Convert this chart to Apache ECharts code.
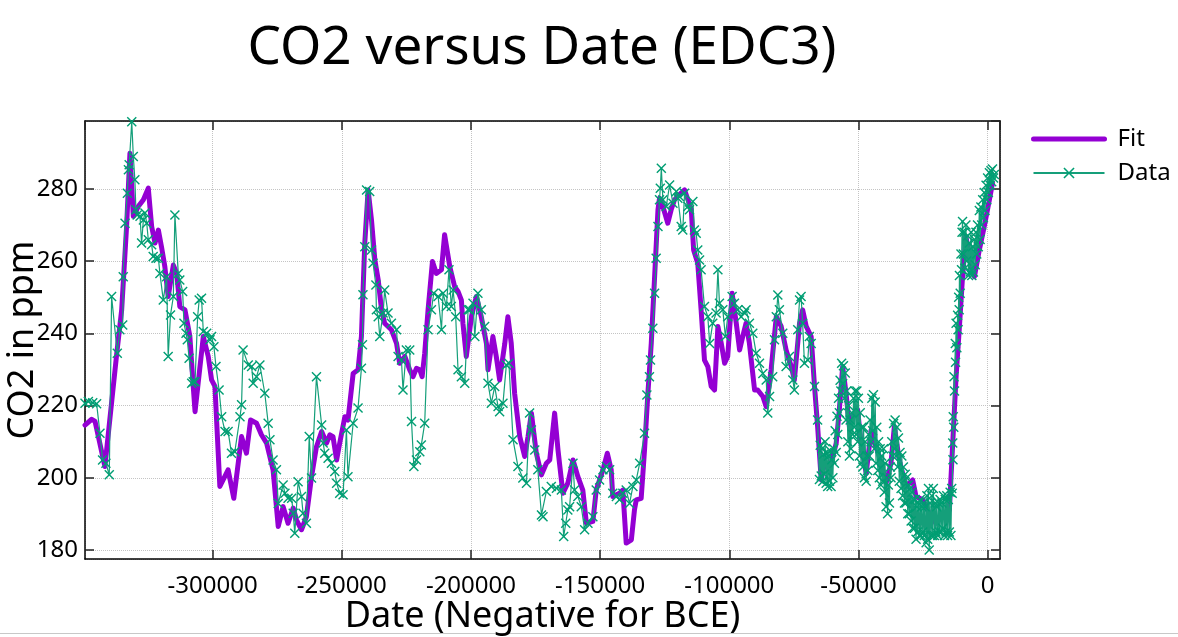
<!DOCTYPE html>
<html>
<head>
<meta charset="utf-8">
<script src="https://cdn.jsdelivr.net/npm/echarts@6/dist/echarts.min.js"></script>
<style>
html,body{margin:0;padding:0;background:#fff;}
#chart{width:1178px;height:637px;}
</style>
</head>
<body>
<div id="chart"></div>
<script>
// ---- Fit curve (Date in years, CO2 in ppm) ----
const fitDate = [
-349400,-346800,-345500,-341700,-337100,-335200,-333300,-332000,-330700,-328800,
-326800,-324900,-323600,-322300,-321000,-319700,-318500,-317200,-315200,-313900,
-312700,-310700,-308800,-307500,-306800,-305600,-303600,-301700,-300400,-299100,
-297200,-294000,-291800,-288800,-286900,-285300,-283000,-281100,-279100,-276600,-274600,
-272700,-270800,-268800,-267500,-265600,-263700,-261700,-259800,-257800,-255900,
-254600,-253400,-252000,-250800,-248800,-247600,-245600,-243700,-242400,-241100,
-239800,-238500,-237200,-235900,-234600,-233400,-230800,-228800,-227600,-225600,
-223700,-222400,-221100,-219800,-218900,-217900,-216600,-214900,-213400,-211400,
-210200,-208200,-206300,-205000,-203700,
-203100,-201800,-199800,-197900,-196000,-194000,-193400,-191500,-190200,-188900,
-186900,-185700,-184400,-183100,-181100,-179200,-177900,-176600,-174700,-172700,
-170800,-169500,-167600,-166300,-164400,-162500,-160500,-158600,-156700,-155300,
-152800,-151500,-148900,-147200,-145700,-145100,-142500,-141200,-139900,-137900,
-136700,-136000,-134100,-132800,-131500,-130200,-128900,-127600,
-127000,-125700,-123800,-122500,-121200,-119300,-117300,-116000,-114700,-113800,
-112200,-110900,-109600,-108300,-107000,-105700,-104400,-103100,-101800,-100600,
-98900,-97300,-96000,-94800,-93500,-92200,-90200,-89000,-87000,-85700,
-83800,-81800,-79900,-78000,-76000,-74800,-72800,-71600,-70200,-68300,
-67000,-65800,-64400,-63200,-61200,-58600,
-57400,-56100,-54800,-53500,-52200,-50300,-49000,-47000,-45100,-43800,
-41900,-39300,-37400,-36100,-34200,-31600,-29000,-27700,-25100,-22600,
-20000,-17400,-14800,-13500,-12200,-10900,-9700,-8400,-6400,-5100,
-3200,-1300,700,1900
];
const fitCO2 = [
214.6,216.2,215.6,203.1,234.5,246.5,269.6,289.9,272.4,275.1,
277.0,280.2,269.6,265.0,268.6,263.6,258.5,250.2,258.9,256.6,
247.4,246.5,239.1,225.3,218.3,226.2,239.1,233.6,227.1,225.3,
197.6,202.2,194.3,211.4,206.8,216.0,215.1,211.9,209.6,202.2,186.5,
192.0,187.4,191.6,188.3,185.6,189.2,200.3,208.6,212.8,209.6,
211.9,211.4,204.9,209.6,216.9,216.0,228.9,229.9,239.1,265.0,
279.7,271.4,260.3,254.8,246.5,242.8,241.0,237.2,231.7,233.6,
229.9,228.0,230.3,229.9,228.0,234.5,246.5,259.9,256.6,257.6,
267.3,258.5,252.9,251.6,249.2,
242.8,233.6,244.6,250.2,244.6,237.2,229.9,239.1,233.6,227.1,
237.2,244.6,237.2,223.4,211.4,205.9,211.4,217.9,206.8,200.8,
204.0,204.9,217.9,207.7,195.7,198.5,204.9,200.3,196.6,187.4,
187.9,196.6,202.2,206.8,202.2,194.8,195.7,196.6,181.9,182.8,
191.1,193.9,194.3,207.7,223.4,237.2,255.7,274.2,
277.4,275.1,270.5,274.2,277.0,278.4,279.7,277.0,274.2,263.1,
259.4,246.5,232.6,230.8,225.3,224.3,241.9,237.2,231.7,233.6,
251.1,242.8,235.4,239.1,242.8,237.2,224.3,224.3,222.5,219.7,
229.9,244.6,241.9,235.4,230.8,227.1,242.8,246.5,241.9,239.1,
225.3,214.2,199.4,204.0,202.2,209.6,
218.8,230.8,223.4,214.2,216.9,218.8,209.6,201.2,213.2,209.6,
205.9,198.5,204.0,214.2,204.9,197.6,199.4,194.8,193.9,190.2,
187.4,189.2,191.1,209.6,228.0,241.9,255.7,266.8,258.5,255.7,
263.1,269.6,277.0,281.6
];

// ---- Measured data (Date in years, CO2 in ppm) ----
const dataDate = [
-349400,-348100,-346400,-344900,-343600,-342600,-341300,-340000,-339100,-336900,
-335900,-334800,-334600,-333900,-333000,-332600,-332300,-331300,-330700,-330100,
-329700,-329200,-328100,-327500,-326800,-326200,-325500,-324900,-323600,-323000,
-321900,-321000,-320400,-319100,-317800,-317200,-316300,-315200,-314600,-313300,
-312700,-311600,-311100,-310300,-309800,-309100,-308100,-307500,-306800,-305800,
-305200,-304300,-303600,-302300,-301000,-300400,-299500,-298700,-297500,-296500,
-295200,-294000,-292700,-291400,-289400,-288800,-288200,-286200,-284900,-284300,
-283000,-281700,-279800,-278500,-277800,-276600,-275300,-274600,
-272700,-272000,-270800,-269400,-268800,-268200,-266900,-265600,-265000,-263700,
-262600,-261700,-259800,-257800,-257200,-256600,-255300,-254000,-252700,-252000,
-250800,-249500,-248200,-247600,-245600,-243700,-242400,-242000,-241800,-241100,
-240400,-239200,-238500,-237900,-236800,-236600,-235900,-235300,-234000,-233400,
-232100,-230800,-228800,-228200,-226900,-226300,-225000,-223700,-223000,-222100,
-221100,-219800,-219200,-217900,-216600,-215300,-214400,-212700,-211400,-210800,
-209500,-208500,-207600,-206900,-205900,-205000,-203700,-202400,-201100,
-200500,-199200,-198500,-197300,-196000,-194700,-193400,-192100,-190800,-189500,
-188900,-187600,-186300,-185300,-183700,-181800,-179900,-178500,-177300,-176600,
-175300,-174100,-172700,-172100,-170800,-168900,-166900,-165000,-164100,-163300,
-162500,-161800,-160500,-159900,-158600,-157300,-156000,-154700,-152800,-151500,
-150200,-148900,-147600,-146300,-145100,-143700,-142500,-141200,-139900,-138600,
-137300,-136000,-134700,-132800,-131900,-130900,-130500,-129600,-128900,-128300,
-127600,
-127000,-126700,-126300,-125700,-124400,-123100,-121800,-120500,-119900,-119300,
-118600,-118000,-117300,-116000,-115400,-114100,-113500,-112800,-112200,-111500,
-110900,-109600,-108300,-107600,-106400,-105100,-104400,-103800,-102500,-101500,
-100600,-98900,-98000,-96700,-95400,-94100,-93500,-92200,-90900,-89600,
-88300,-87000,-85700,-85100,-84400,-83200,-82500,-81800,-81200,-80600,
-79300,-78000,-76700,-75400,-74800,-73500,-72800,-72200,-71600,-70900,
-69600,-69000,-68300,-67000,-65800,
-65100,-64800,-64400,-64100,-63800,-63500,-63200,-62900,-62500,-62200,
-61900,-61600,-61200,-60900,-60600,-60300,-59900,-59600,-59300,-59000,
-58600,-58300,-58000,-57700,-57400,-57100,-56800,-56500,-56100,-55800,
-55400,-55100,-54800,-54500,-54100,-53800,-53500,-53200,-52900,-52600,
-52200,-51900,-51600,-51300,-50900,-50600,-50300,-50000,-49600,-49300,
-49000,-48700,-48300,-48000,-47700,-47400,-47000,-46700,-46400,-46100,
-45800,-45500,-45100,-44800,-44500,-44200,-43800,-43500,-43200,-42900,
-42500,-42200,-41900,-41600,-41300,-41000,-40600,-40300,-40000,-39700,
-39300,-39000,-38700,-38400,-38000,-37700,-37400,-37100,-36700,-36400,
-36100,-35800,-35400,-35100,-34800,-34500,-34200,-33900,-33500,-33200,
-32900,-32600,-32200,-31900,-31600,-31300,-30900,-30600,-30300,-30000,
-29600,-29300,-29000,-28700,-28300,-28000,-27700,-27400,-27100,-26800,
-26400,-26100,-25800,-25500,-25100,-24800,-24500,-24200,-23800,-23500,
-23200,-22900,-22600,-22300,-21900,-21600,-21300,-21000,-20600,-20300,
-20000,-19700,-19300,-19000,-18700,-18400,-18000,-17700,-17400,-17100,
-16700,-16400,-16100,-15800,-15500,-15200,-14800,-14500,-14200,-13900,
-13700,-13500,-13400,-13300,-13100,-13000,-12800,-12500,-12400,-12200,
-11900,-11600,-11400,-11200,-11000,-10900,-10600,-10300,-10100,-9900,
-9700,-9400,-9100,-8800,-8400,-8100,-7700,-7400,-7100,-6800,
-6400,-6100,-5800,-5500,-5100,-4800,-4500,-4200,-3900,-3600,
-3200,-2900,-2600,-2300,-1900,-1600,-1300,-1000,-600,-300,
0,300,700,1000,1300,1600,1900,2300,2600
];
const dataCO2 = [
220.6,221.1,220.8,220.5,212.3,204.9,204.0,200.8,250.2,234.5,
241.0,242.3,255.7,270.5,278.8,285.3,286.7,298.6,289.0,282.5,
274.2,272.8,272.4,265.0,271.4,273.3,270.5,265.9,264.5,261.3,
260.8,260.8,256.6,249.2,255.7,233.6,245.1,250.2,272.8,256.6,
254.8,251.6,242.8,240.0,238.2,233.1,226.2,226.6,226.6,244.6,
249.2,249.7,240.5,240.0,238.2,239.1,236.3,230.8,224.3,216.9,
212.8,212.8,206.8,207.2,216.9,220.2,235.4,231.2,230.8,226.2,
228.0,231.2,223.4,215.1,210.5,204.9,202.2,192.9,
198.0,195.7,194.3,194.3,190.2,184.6,198.9,194.8,190.2,187.4,
211.4,199.9,228.0,214.6,209.6,206.8,205.4,204.0,201.7,198.5,
195.7,195.3,213.2,200.3,215.1,219.3,230.3,236.8,250.7,264.0,
279.7,279.3,263.1,259.4,253.4,246.5,244.6,239.1,245.6,252.0,
245.6,242.8,241.0,233.6,232.6,224.3,235.4,235.4,215.6,203.1,
204.9,207.2,209.1,215.1,241.0,246.5,251.1,250.2,241.0,251.1,
247.4,257.6,247.4,252.0,244.6,229.9,228.0,226.2,246.5,
246.5,248.3,239.1,251.1,246.5,241.9,226.2,220.6,225.3,219.7,
218.3,220.6,231.2,231.7,210.5,203.1,199.9,198.5,217.9,213.2,
207.7,202.2,189.7,189.2,196.2,197.6,197.1,196.6,183.7,187.4,
191.1,192.0,204.0,196.6,194.8,192.0,185.6,187.4,189.2,196.6,
199.4,202.2,203.1,202.2,195.7,194.8,193.9,195.7,196.6,192.9,
197.6,199.4,204.0,212.3,222.9,228.0,232.6,241.4,251.1,260.8,
269.6,
277.0,280.2,285.7,277.0,275.1,281.1,276.0,279.3,277.4,277.9,
269.6,268.6,278.8,275.1,274.2,276.5,268.6,267.7,263.1,260.3,
257.6,247.4,244.6,237.2,242.8,245.6,257.6,248.3,246.5,239.1,
244.6,250.2,248.3,246.5,244.6,245.6,246.5,242.8,240.0,234.5,
231.7,228.9,227.1,217.9,222.5,228.0,238.2,244.6,250.6,246.5,
240.0,230.8,233.6,227.1,224.3,241.0,249.2,250.2,242.8,231.7,
232.6,239.1,237.2,225.3,216.0,
199.5,209.0,200.5,208.0,199.0,206.5,201.0,210.0,198.5,207.0,
197.6,206.0,199.0,207.5,197.6,205.0,200.0,208.0,204.0,213.0,
207.0,217.0,212.0,222.0,218.0,227.0,224.0,231.7,226.0,231.0,
222.0,229.0,216.0,224.0,210.0,220.0,206.0,216.0,208.0,218.0,
212.0,222.0,214.0,224.0,212.0,224.0,210.0,222.0,206.0,218.0,
204.0,214.0,203.0,214.0,200.0,210.0,199.0,206.0,202.0,212.0,
206.0,216.0,210.0,222.0,213.0,223.0,208.0,221.0,204.0,214.0,
202.0,210.0,200.0,208.0,198.0,206.0,199.0,208.0,196.0,204.0,
192.0,200.0,190.0,198.0,193.0,203.0,200.0,210.0,206.0,215.0,
208.0,216.0,206.0,214.0,203.0,211.0,199.0,207.0,197.0,206.0,
195.0,203.0,193.0,201.0,193.0,200.0,190.0,198.0,190.0,197.0,
188.0,196.0,186.0,194.0,186.0,194.0,183.0,192.0,185.0,193.0,
184.0,194.0,184.0,192.0,185.0,193.0,184.0,192.0,182.0,195.0,
183.0,197.0,180.0,193.0,184.0,195.0,184.0,197.0,184.0,193.0,
185.0,192.0,184.0,193.0,185.0,194.0,185.0,193.0,186.0,195.0,
184.0,194.0,185.0,195.0,184.0,194.0,185.0,196.0,184.0,197.0,
195.7,209.6,205.0,216.9,214.0,228.0,224.0,237.2,232.0,242.8,
236.0,245.0,241.0,250.0,246.5,256.0,251.1,262.0,257.6,268.0,
271.0,262.0,268.0,258.0,270.0,260.0,267.0,256.0,265.0,257.0,
268.0,256.0,264.0,257.0,266.0,259.0,268.0,262.0,270.0,264.0,
274.0,266.0,275.0,270.0,277.0,272.0,279.0,274.0,281.0,277.0,
283.0,279.0,284.5,281.0,285.0,282.0,285.5,283.0,284.0
];

const xRange = [-349400, 4800];
const yRange = [177.5, 298.8];
const xStep = 50000;
const yStep = 20;

const fitPairs = fitDate.map((d, i) => [d, fitCO2[i]]);
const dataPairs = dataDate.map((d, i) => [d, dataCO2[i]]);

const FONT = 'Noto Sans';
const xMark = 'path://M0,1 L1,0 L5,4 L9,0 L10,1 L6,5 L10,9 L9,10 L5,6 L1,10 L0,9 L4,5 Z';

const axisLineStyle = { color: '#000', width: 1.5 };
const tickStyle = { color: '#222', width: 1.5 };
const gridLine = { show: true, lineStyle: { color: '#c4c4c4', type: 'dotted', width: 1 } };

const chart = echarts.init(document.getElementById('chart'), null, { renderer: 'canvas' });
chart.setOption({
  animation: false,
  backgroundColor: '#fff',
  textStyle: { fontFamily: FONT },
  title: {
    text: 'CO2 versus Date (EDC3)',
    left: 537, top: 17, textAlign: 'center',
    textStyle: { fontFamily: FONT, fontSize: 53, fontWeight: 'normal', color: '#000' }
  },
  legend: {
    orient: 'vertical',
    left: 1026, top: 122,
    itemWidth: 71, itemHeight: 14, itemGap: 10,
    data: [
      { name: 'Fit', itemStyle: { opacity: 0 }, lineStyle: { width: 5, color: '#9400d3', cap: 'round' } },
      { name: 'Data' }
    ],
    textStyle: { fontFamily: FONT, fontSize: 24, color: '#000', padding: [0, 0, 0, 8] }
  },
  grid: { left: 85, right: 178, top: 121, bottom: 78, containLabel: false, outerBoundsMode: 'none' },
  xAxis: [{
    type: 'value', position: 'bottom',
    min: xRange[0], max: xRange[1], minInterval: xStep, maxInterval: xStep,
    name: 'Date (Negative for BCE)', nameLocation: 'middle', nameGap: 40, nameMoveOverlap: false,
    nameTextStyle: { fontFamily: FONT, fontSize: 36, color: '#000' },
    axisLine: { show: true, onZero: false, lineStyle: axisLineStyle },
    axisTick: { show: true, inside: true, length: 9, lineStyle: tickStyle },
    axisLabel: { fontFamily: FONT, fontSize: 24, color: '#000', margin: 15,
      showMinLabel: false, showMaxLabel: false, formatter: v => String(v) },
    splitLine: gridLine
  }, {
    type: 'value', position: 'top',
    min: xRange[0], max: xRange[1], minInterval: xStep, maxInterval: xStep,
    axisLine: { show: true, onZero: false, lineStyle: axisLineStyle },
    axisTick: { show: true, inside: true, length: 9, lineStyle: tickStyle },
    axisLabel: { show: false },
    splitLine: { show: false }
  }],
  yAxis: [{
    type: 'value', position: 'left',
    min: yRange[0], max: yRange[1], minInterval: yStep, maxInterval: yStep,
    name: 'CO2 in ppm', nameLocation: 'middle', nameGap: 44, nameMoveOverlap: false,
    nameTextStyle: { fontFamily: FONT, fontSize: 36, color: '#000' },
    axisLine: { show: true, onZero: false, lineStyle: axisLineStyle },
    axisTick: { show: true, inside: true, length: 9, lineStyle: tickStyle },
    axisLabel: { fontFamily: FONT, fontSize: 24, color: '#000', margin: 7,
      showMinLabel: false, showMaxLabel: false, formatter: v => String(v) },
    splitLine: gridLine
  }, {
    type: 'value', position: 'right',
    min: yRange[0], max: yRange[1], minInterval: yStep, maxInterval: yStep,
    axisLine: { show: true, onZero: false, lineStyle: axisLineStyle },
    axisTick: { show: true, inside: true, length: 9, lineStyle: tickStyle },
    axisLabel: { show: false },
    splitLine: { show: false }
  }],
  graphic: [{
    type: 'rect', left: 0, top: 633, shape: { width: 1178, height: 1 },
    style: { fill: '#c8c8c8' }, silent: true
  }],
  series: [{
    name: 'Fit', type: 'line', xAxisIndex: 0, yAxisIndex: 0,
    data: fitPairs, symbol: 'none', z: 2,
    lineStyle: { color: '#9400d3', width: 5, join: 'round', cap: 'round' },
    itemStyle: { color: '#9400d3' }
  }, {
    name: 'Data', type: 'line', xAxisIndex: 0, yAxisIndex: 0,
    data: dataPairs, symbol: xMark, symbolSize: 10, showSymbol: true, z: 3,
    lineStyle: { color: '#159f7a', width: 1.2 },
    itemStyle: { color: '#009e73' }
  }]
});
</script>
</body>
</html>
